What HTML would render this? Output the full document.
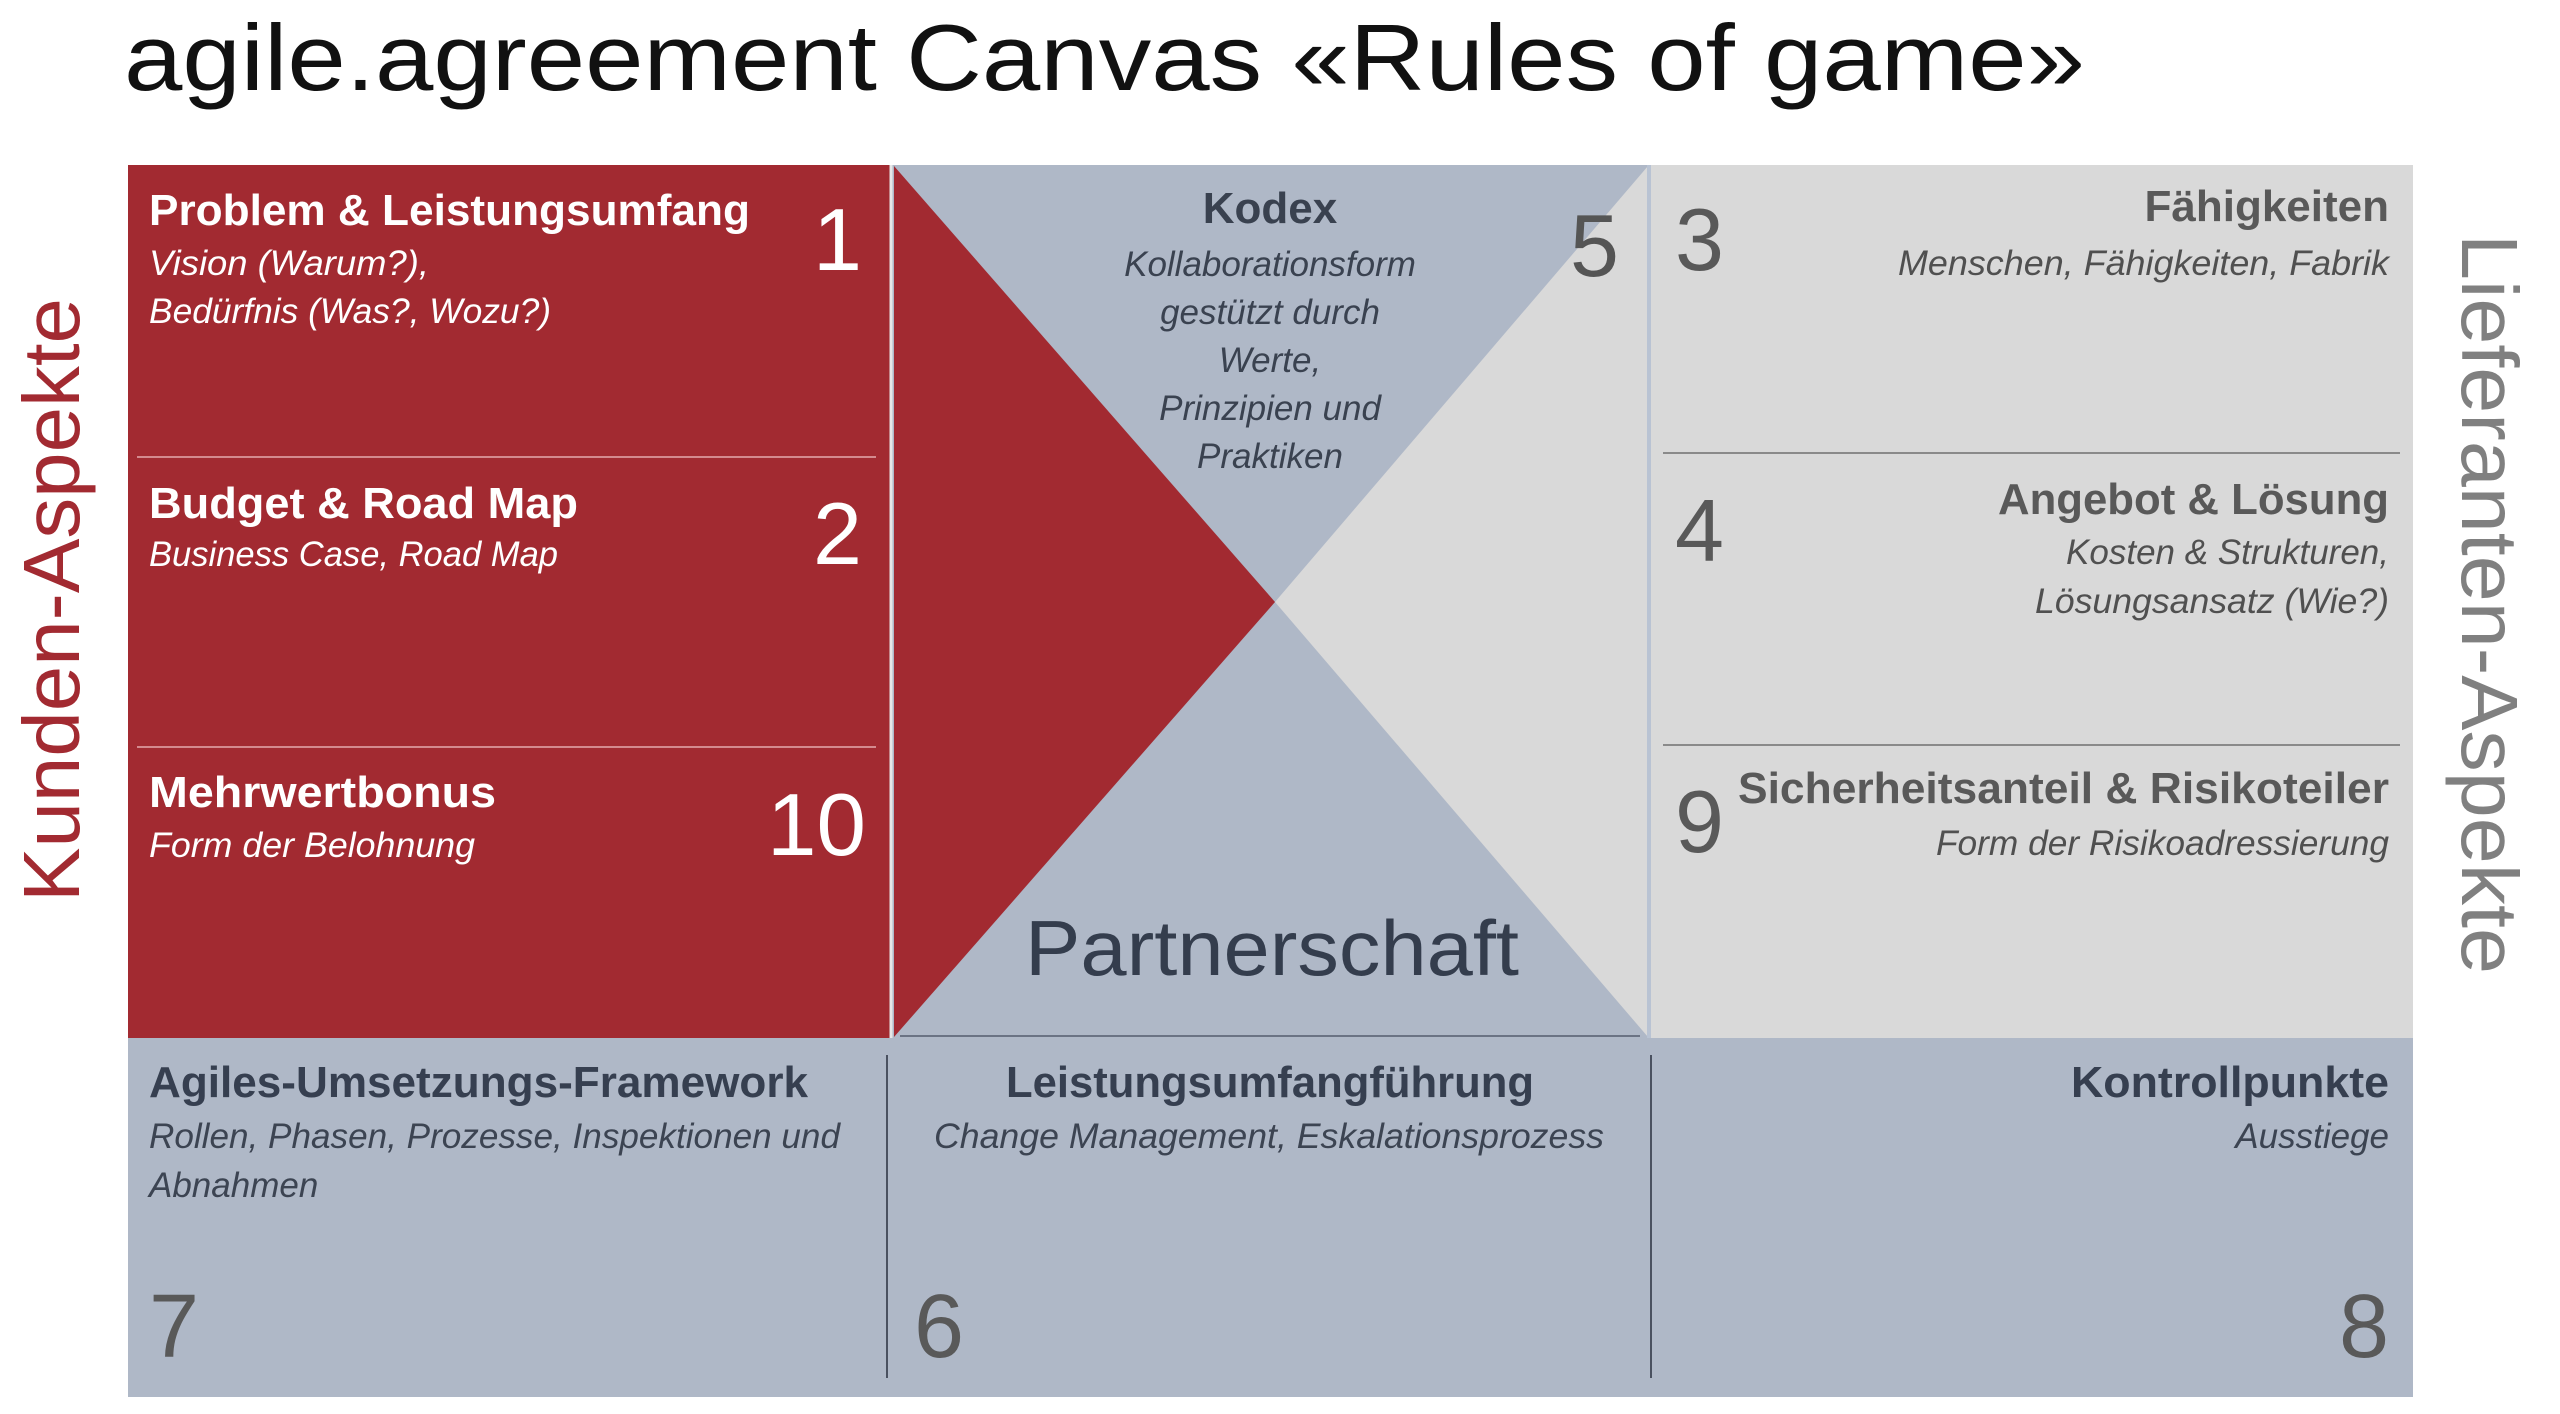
<!DOCTYPE html>
<html><head><meta charset="utf-8"><style>
html,body{margin:0;padding:0;background:#fff;}
svg{display:block;}
text{font-family:"Liberation Sans",sans-serif;}
</style></head><body>
<svg width="2560" height="1414" viewBox="0 0 2560 1414" xmlns="http://www.w3.org/2000/svg">
<rect width="2560" height="1414" fill="#fff"/>
<!-- Title -->
<text x="124" y="90" font-size="94" fill="#111" textLength="1961" lengthAdjust="spacingAndGlyphs">agile.agreement Canvas «Rules of game»</text>

<!-- Red left panel -->
<rect x="128" y="165" width="762" height="873" fill="#a22a31"/>
<line x1="137" y1="457" x2="876" y2="457" stroke="#d48a8e" stroke-width="2"/>
<line x1="137" y1="747" x2="876" y2="747" stroke="#d48a8e" stroke-width="2"/>

<!-- Center -->
<rect x="890" y="165" width="760" height="873" fill="#afb8c7"/>
<polygon points="1648,166 1275,602 1648,1037" fill="#d9d9d9"/>
<polygon points="894,166 1275,602 894,1037" fill="#a22a31"/>
<line x1="891" y1="165" x2="891" y2="1038" stroke="#e6e6e6" stroke-width="3"/>
<line x1="1649" y1="165" x2="1649" y2="1038" stroke="#b9c3d3" stroke-width="4"/>
<line x1="900" y1="1036" x2="1640" y2="1036" stroke="#6b7384" stroke-width="2"/>

<!-- Right panel -->
<rect x="1651" y="165" width="762" height="873" fill="#d9d9d9"/>
<line x1="1663" y1="453" x2="2400" y2="453" stroke="#8a8a8a" stroke-width="2"/>
<line x1="1663" y1="745" x2="2400" y2="745" stroke="#8a8a8a" stroke-width="2"/>

<!-- Bottom band -->
<rect x="128" y="1038" width="2285" height="359" fill="#afb8c7"/>
<line x1="887" y1="1055" x2="887" y2="1378" stroke="#4a5160" stroke-width="2"/>
<line x1="1651" y1="1055" x2="1651" y2="1378" stroke="#4a5160" stroke-width="2"/>

<!-- Red panel texts -->
<g fill="#fff">
<text x="149" y="225" font-size="44" font-weight="bold" textLength="601" lengthAdjust="spacingAndGlyphs">Problem &amp; Leistungsumfang</text>
<text x="149" y="275" font-size="35" font-style="italic" textLength="280" lengthAdjust="spacingAndGlyphs">Vision (Warum?),</text>
<text x="149" y="323" font-size="35" font-style="italic" textLength="402" lengthAdjust="spacingAndGlyphs">Bedürfnis (Was?, Wozu?)</text>
<text x="862" y="270" font-size="88" text-anchor="end">1</text>
<text x="149" y="518" font-size="44" font-weight="bold" textLength="429" lengthAdjust="spacingAndGlyphs">Budget &amp; Road Map</text>
<text x="149" y="566" font-size="35" font-style="italic" textLength="409" lengthAdjust="spacingAndGlyphs">Business Case, Road Map</text>
<text x="862" y="564" font-size="88" text-anchor="end">2</text>
<text x="149" y="807" font-size="44" font-weight="bold" textLength="347" lengthAdjust="spacingAndGlyphs">Mehrwertbonus</text>
<text x="149" y="857" font-size="35" font-style="italic" textLength="326" lengthAdjust="spacingAndGlyphs">Form der Belohnung</text>
<text x="866" y="855" font-size="88" text-anchor="end" textLength="99" lengthAdjust="spacingAndGlyphs">10</text>
</g>

<!-- Center texts -->
<text x="1270" y="223" font-size="44" font-weight="bold" fill="#39414f" text-anchor="middle">Kodex</text>
<g font-size="35" font-style="italic" fill="#3a4250" text-anchor="middle">
<text x="1270" y="276">Kollaborationsform</text>
<text x="1270" y="324">gestützt durch</text>
<text x="1270" y="372">Werte,</text>
<text x="1270" y="420">Prinzipien und</text>
<text x="1270" y="468">Praktiken</text>
</g>
<text x="1619" y="276" font-size="88" fill="#555" text-anchor="end">5</text>
<text x="1025" y="975" font-size="78" fill="#343d4d" textLength="494" lengthAdjust="spacingAndGlyphs">Partnerschaft</text>

<!-- Right panel texts -->
<g fill="#595959">
<text x="1675" y="270" font-size="88">3</text>
<text x="1675" y="561" font-size="88">4</text>
<text x="1675" y="852" font-size="88">9</text>
<text x="2389" y="221" font-size="44" font-weight="bold" text-anchor="end">Fähigkeiten</text>
<text x="2389" y="514" font-size="44" font-weight="bold" text-anchor="end" textLength="391" lengthAdjust="spacingAndGlyphs">Angebot &amp; Lösung</text>
<text x="1738" y="803" font-size="44" font-weight="bold" textLength="651" lengthAdjust="spacingAndGlyphs">Sicherheitsanteil &amp; Risikoteiler</text>
</g>
<g fill="#505050" font-size="35" font-style="italic" text-anchor="end">
<text x="2389" y="275" textLength="491" lengthAdjust="spacingAndGlyphs">Menschen, Fähigkeiten, Fabrik</text>
<text x="2389" y="564">Kosten &amp; Strukturen,</text>
<text x="2389" y="613" textLength="354" lengthAdjust="spacingAndGlyphs">Lösungsansatz (Wie?)</text>
<text x="2389" y="855" textLength="453" lengthAdjust="spacingAndGlyphs">Form der Risikoadressierung</text>
</g>

<!-- Bottom texts -->
<g fill="#363f50" font-size="44" font-weight="bold">
<text x="149" y="1097" textLength="659" lengthAdjust="spacingAndGlyphs">Agiles-Umsetzungs-Framework</text>
<text x="1006" y="1097" textLength="528" lengthAdjust="spacingAndGlyphs">Leistungsumfangführung</text>
<text x="2389" y="1097" text-anchor="end" textLength="318" lengthAdjust="spacingAndGlyphs">Kontrollpunkte</text>
</g>
<g fill="#3c4452" font-size="35" font-style="italic">
<text x="149" y="1148" textLength="691" lengthAdjust="spacingAndGlyphs">Rollen, Phasen, Prozesse, Inspektionen und</text>
<text x="149" y="1197">Abnahmen</text>
<text x="934" y="1148" textLength="670" lengthAdjust="spacingAndGlyphs">Change Management, Eskalationsprozess</text>
<text x="2389" y="1148" text-anchor="end">Ausstiege</text>
</g>
<g fill="#595959" font-size="90">
<text x="149" y="1357">7</text>
<text x="914" y="1357">6</text>
<text x="2389" y="1357" text-anchor="end">8</text>
</g>

<!-- Side labels -->
<text transform="translate(79,902) rotate(-90)" font-size="80" fill="#a22a31" textLength="604" lengthAdjust="spacingAndGlyphs">Kunden-Aspekte</text>
<text transform="translate(2462,234) rotate(90)" font-size="80" fill="#808080" textLength="740" lengthAdjust="spacingAndGlyphs">Lieferanten-Aspekte</text>
</svg>
</body></html>
